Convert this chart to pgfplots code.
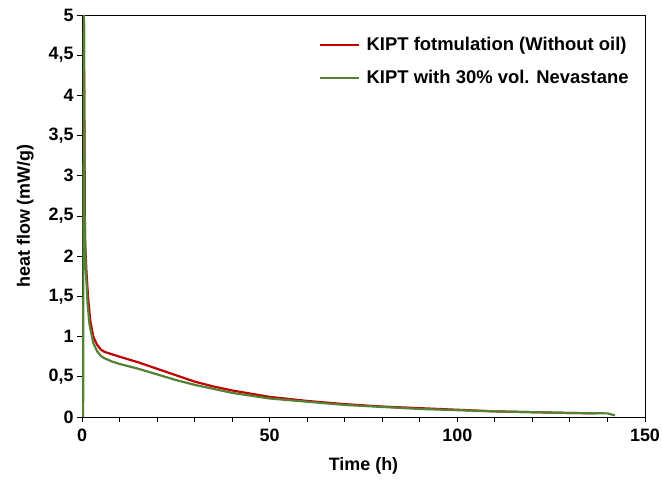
\documentclass[border=0pt]{standalone}
\usepackage{pgfplots}
\pgfplotsset{compat=1.18}
\usepackage{fontspec}
\setmainfont{Liberation Sans}
\definecolor{kred}{HTML}{C00000}
\definecolor{kgreen}{HTML}{548235}
\begin{document}
\begin{tikzpicture}
  \begin{axis}[
      name=ax,
      scale only axis,
      width=563bp, height=402bp,
      xmin=0, xmax=150, ymin=0, ymax=5,
      xtick={0,50,100,150},
      minor x tick num=4,
      ytick={0,0.5,...,5},
      tick align=outside,
      xtick pos=left, ytick pos=left,
      major tick length=5bp, minor tick length=5bp,
      /pgf/number format/use comma,
      /pgf/number format/assume math mode=true,
      tick label style={font=\fontsize{18}{21}\selectfont\bfseries},
      xticklabel style={yshift=-3bp},
      xlabel={Time (h)}, ylabel={heat flow (mW/g)},
      label style={font=\fontsize{18}{21}\selectfont\bfseries},
      xlabel style={yshift=-9bp},
      ylabel style={yshift=8bp},
      axis line style={line width=0.9pt},
      every tick/.style={line width=0.9pt, black},
      legend style={draw=none, fill=none, at={(0.98,0.955)}, anchor=north east,
        font=\fontsize{18.5}{21}\selectfont\bfseries, row sep=14bp},
      legend cell align=left,
      legend image code/.code={\draw[#1, line width=2pt] (0bp,0bp) -- (39bp,0bp);
        \path (44bp,0bp);},
    ]
    \addplot[kred, line width=2.2pt] coordinates {
      (0.5,5) (0.8,2.2) (1.2,1.8) (1.6,1.5) (2.2,1.2) (3,1.0) (4,0.9) (5,0.84)
      (6,0.81) (8,0.78) (10,0.75) (15,0.68) (20,0.6) (25,0.52) (30,0.44)
      (35,0.38) (40,0.33) (50,0.25) (60,0.2) (70,0.16) (80,0.13) (90,0.11)
      (100,0.09) (110,0.07) (120,0.06) (130,0.05) (137,0.045)};
    \addplot[kgreen, line width=2.2pt] coordinates {
      (0.3,0) (0.5,5) (0.7,2.5) (1,1.85) (1.5,1.4) (2,1.15) (3,0.92) (4,0.82)
      (5,0.76) (6,0.73) (8,0.69) (10,0.66) (15,0.6) (20,0.53) (25,0.46)
      (30,0.4) (35,0.35) (40,0.3) (50,0.23) (60,0.19) (70,0.15) (80,0.125)
      (90,0.1) (100,0.085) (110,0.07) (120,0.06) (130,0.05) (140,0.045) (142,0.02)};
    \legend{KIPT fotmulation (Without oil), KIPT with 30\% vol. Nevastane}
  \end{axis}
  \pgfresetboundingbox
  \path ([shift={(-82bp,-65bp)}]ax.south west) rectangle ([shift={(17bp,15bp)}]ax.north east);
\end{tikzpicture}
\end{document}
